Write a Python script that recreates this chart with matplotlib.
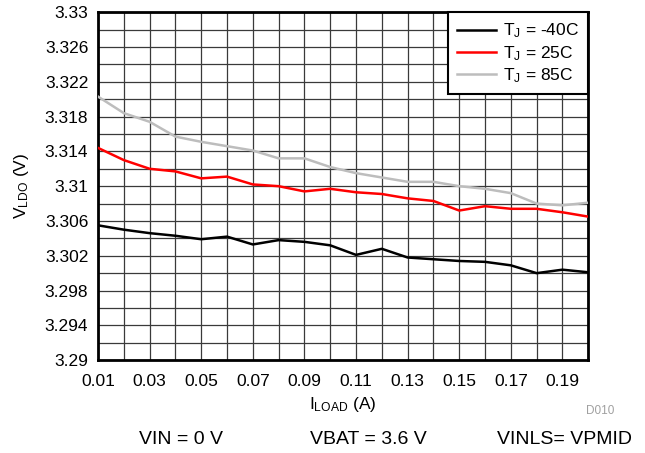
import matplotlib
matplotlib.use('Agg')
import matplotlib.pyplot as plt
from matplotlib.ticker import FixedLocator, MultipleLocator

plt.rcParams['font.family'] = ['Liberation Sans', 'DejaVu Sans']
plt.rcParams['mathtext.fontset'] = 'custom'
plt.rcParams['mathtext.rm'] = 'Liberation Sans'
plt.rcParams['mathtext.it'] = 'Liberation Sans'

# load current (A)
i_load = [0.01, 0.02, 0.03, 0.04, 0.05, 0.06, 0.07, 0.08, 0.09, 0.10,
          0.11, 0.12, 0.13, 0.14, 0.15, 0.16, 0.17, 0.18, 0.19, 0.20]
# V_LDO for each junction temperature
v_m40 = [3.3055, 3.3050, 3.3046, 3.3043, 3.3039, 3.3042, 3.3033, 3.3038, 3.3036, 3.3032,
         3.3021, 3.3028, 3.3018, 3.3016, 3.3014, 3.3013, 3.3009, 3.3000, 3.3004, 3.3001]
v_25 = [3.3144, 3.3130, 3.3120, 3.3117, 3.3109, 3.3111, 3.3102, 3.3100, 3.3094, 3.3097,
        3.3093, 3.3091, 3.3086, 3.3083, 3.3072, 3.3077, 3.3074, 3.3074, 3.3070, 3.3065]
v_85 = [3.3203, 3.3184, 3.3174, 3.3157, 3.3151, 3.3146, 3.3141, 3.3132, 3.3132, 3.3122,
        3.3115, 3.3110, 3.3105, 3.3105, 3.3100, 3.3097, 3.3092, 3.3080, 3.3078, 3.3081]

xticks = [0.01, 0.03, 0.05, 0.07, 0.09, 0.11, 0.13, 0.15, 0.17, 0.19]
xtick_labels = ['0.01', '0.03', '0.05', '0.07', '0.09', '0.11', '0.13', '0.15', '0.17', '0.19']
yticks = [3.29, 3.294, 3.298, 3.302, 3.306, 3.31, 3.314, 3.318, 3.322, 3.326, 3.33]
ytick_labels = ['3.29', '3.294', '3.298', '3.302', '3.306', '3.31', '3.314', '3.318', '3.322', '3.326', '3.33']

fig = plt.figure(figsize=(6.45, 4.53), dpi=100)
ax = fig.add_axes([0.152, 0.205, 0.760, 0.768])

ax.plot(i_load, v_m40, color='black', linewidth=1.8, label=r'T$_\mathrm{J}$ = -40C', zorder=3)
ax.plot(i_load, v_25, color='red', linewidth=1.8, label=r'T$_\mathrm{J}$ = 25C', zorder=3)
ax.plot(i_load, v_85, color='#bdbdbd', linewidth=1.8, label=r'T$_\mathrm{J}$ = 85C', zorder=3)

ax.set_xlim(0.01, 0.20)
ax.set_ylim(3.29, 3.33)
ax.xaxis.set_major_locator(FixedLocator(xticks))
ax.set_xticklabels(xtick_labels)
ax.xaxis.set_minor_locator(MultipleLocator(0.01))
ax.yaxis.set_major_locator(FixedLocator(yticks))
ax.set_yticklabels(ytick_labels)
ax.yaxis.set_minor_locator(MultipleLocator(0.002))
ax.grid(which='both', color='#3a3a3a', linewidth=0.9)
ax.set_axisbelow(True)
ax.tick_params(which='both', length=0, labelsize=12.5)
ax.tick_params(axis='x', pad=10)
ax.tick_params(axis='y', pad=7)

for s in ax.spines.values():
    s.set_linewidth(2.0)
    s.set_color('black')

ax.set_xlabel(r'I$_\mathrm{LOAD}$ (A)', fontsize=12.5, labelpad=4)
ax.set_ylabel(r'V$_\mathrm{LDO}$ (V)', fontsize=12.5, labelpad=10)

leg = ax.legend(loc='upper right', fontsize=12.5, fancybox=False, framealpha=1,
                borderaxespad=0, handlelength=2.2, labelspacing=0.2, borderpad=0.55,
                handletextpad=0.4)
leg.get_frame().set_edgecolor('black')
leg.get_frame().set_linewidth(1.5)

fig.text(0.93, 0.093, 'D010', color='#a0a0a0', fontsize=8.5, ha='center', va='center')
fig.text(0.281, 0.030, 'VIN = 0 V', fontsize=14, ha='center', va='center')
fig.text(0.571, 0.030, 'VBAT = 3.6 V', fontsize=14, ha='center', va='center')
fig.text(0.875, 0.030, 'VINLS= VPMID', fontsize=14, ha='center', va='center')

fig.savefig('out.png', dpi=100)
